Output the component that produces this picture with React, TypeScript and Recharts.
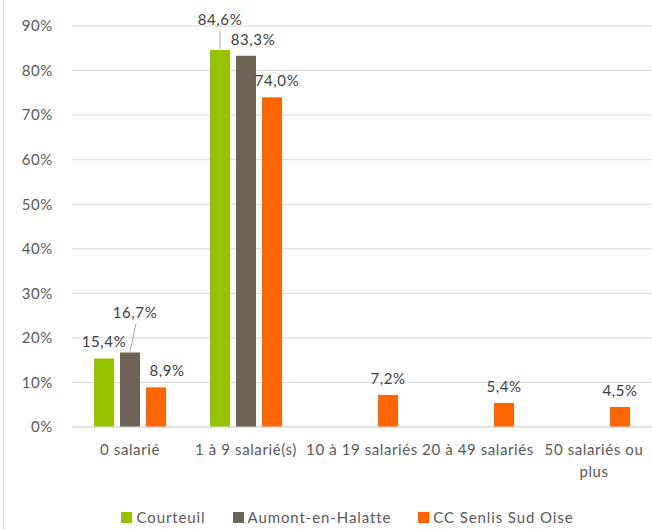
import { Bar, BarChart, CartesianGrid, LabelList, Legend, Text, XAxis, YAxis } from "recharts"

const categories = ["0 salarié", "1 à 9 salarié(s)", "10 à 19 salariés", "20 à 49 salariés", "50 salariés ou plus"]
const courteuil = [15.4, 84.6, null, null, null]
const aumont = [16.7, 83.3, null, null, null]
const senlis = [8.9, 74.0, 7.2, 5.4, 4.5]
const yTicks = [0, 10, 20, 30, 40, 50, 60, 70, 80, 90]

const series = [
  { key: "Courteuil", values: courteuil, color: "#96c300" },
  { key: "Aumont-en-Halatte", values: aumont, color: "#6e6455" },
  { key: "CC Senlis Sud Oise", values: senlis, color: "#ff6600" },
]

const data = categories.map((name, i) => {
  const row: Record<string, string | number | null> = { name }
  series.forEach((s) => (row[s.key] = s.values[i]))
  return row
})

const FONT = "Lato, 'Open Sans', sans-serif"
const TEXT = "#595959"

// nudges for the labels Excel pushed aside
const nudges: Record<string, Record<number, { dx: number; dy: number; leader?: boolean }>> = {
  Courteuil: { 1: { dx: 0, dy: -14, leader: true } },
  "Aumont-en-Halatte": { 0: { dx: 5, dy: -24, leader: true }, 1: { dx: 7, dy: 0 } },
  "CC Senlis Sud Oise": { 0: { dx: 11, dy: 0 }, 1: { dx: 5, dy: 0 } },
}

const fmt = (v: number) => `${v.toFixed(1).replace(".", ",")}%`

function makeLabel(key: string) {
  return (props: any) => {
    const { x, y, width, value, index } = props
    if (value == null) return null
    const n = nudges[key]?.[index] ?? { dx: 0, dy: 0 }
    const cx = x + width / 2
    const base = y - 11 + n.dy
    return (
      <g>
        {n.leader && <line x1={cx} y1={y - 1} x2={cx + n.dx * 1.2} y2={base + 6} stroke="#a6a6a6" strokeWidth={1} />}
        <text x={cx + n.dx} y={base} textAnchor="middle" fontSize={15} fill="#404040" fontFamily={FONT} letterSpacing={0.6}>
          {fmt(value)}
        </text>
      </g>
    )
  }
}

function CategoryTick(props: any) {
  const { x, y, payload } = props
  return (
    <Text
      x={x}
      y={y}
      width={116}
      textAnchor="middle"
      verticalAnchor="start"
      lineHeight="22px"
      fontSize={15}
      fill={TEXT}
      fontFamily={FONT}
      letterSpacing={0.6}
    >
      {payload.value}
    </Text>
  )
}

function LegendContent() {
  return (
    <div style={{ display: "flex", justifyContent: "center", paddingLeft: 70, height: 24, alignItems: "center" }}>
      {series.map((s) => (
        <div key={s.key} style={{ display: "flex", alignItems: "center", marginRight: 27 }}>
          <span style={{ width: 11, height: 11, background: s.color, marginRight: 4, display: "inline-block" }} />
          <span style={{ fontFamily: FONT, fontSize: 15, color: TEXT, letterSpacing: 0.9 }}>{s.key}</span>
        </div>
      ))}
    </div>
  )
}

export default function App() {
  return (
    <div style={{ position: "absolute", left: 0, top: 0, width: 652, height: 529, background: "#fff" }}>
      <div style={{ position: "absolute", left: 3, top: 0, width: 1, height: 529, background: "#d9d9d9" }} />
      <BarChart
        width={652}
        height={529}
        data={data}
        margin={{ top: 26, right: 0, bottom: 0, left: 0 }}
        barSize={20}
        barGap={6}
      >
        <CartesianGrid vertical={false} stroke="#d9d9d9" />
        <XAxis
          dataKey="name"
          height={78}
          tickLine={false}
          axisLine={{ stroke: "#d9d9d9" }}
          tickSize={0}
          tickMargin={17}
          interval={0}
          tick={<CategoryTick />}
        />
        <YAxis
          width={72}
          domain={[0, 90]}
          ticks={yTicks}
          tickFormatter={(v) => `${v}%`}
          axisLine={false}
          tickLine={false}
          tickSize={0}
          tickMargin={19}
          tick={{ fontSize: 15, fill: TEXT, fontFamily: FONT, letterSpacing: 0.6 }}
        />
        <Legend verticalAlign="bottom" height={24} content={<LegendContent />} wrapperStyle={{ bottom: 0 }} />
        {series.map((s) => (
          <Bar key={s.key} dataKey={s.key} fill={s.color} isAnimationActive={false}>
            <LabelList dataKey={s.key} content={makeLabel(s.key)} />
          </Bar>
        ))}
      </BarChart>
    </div>
  )
}
